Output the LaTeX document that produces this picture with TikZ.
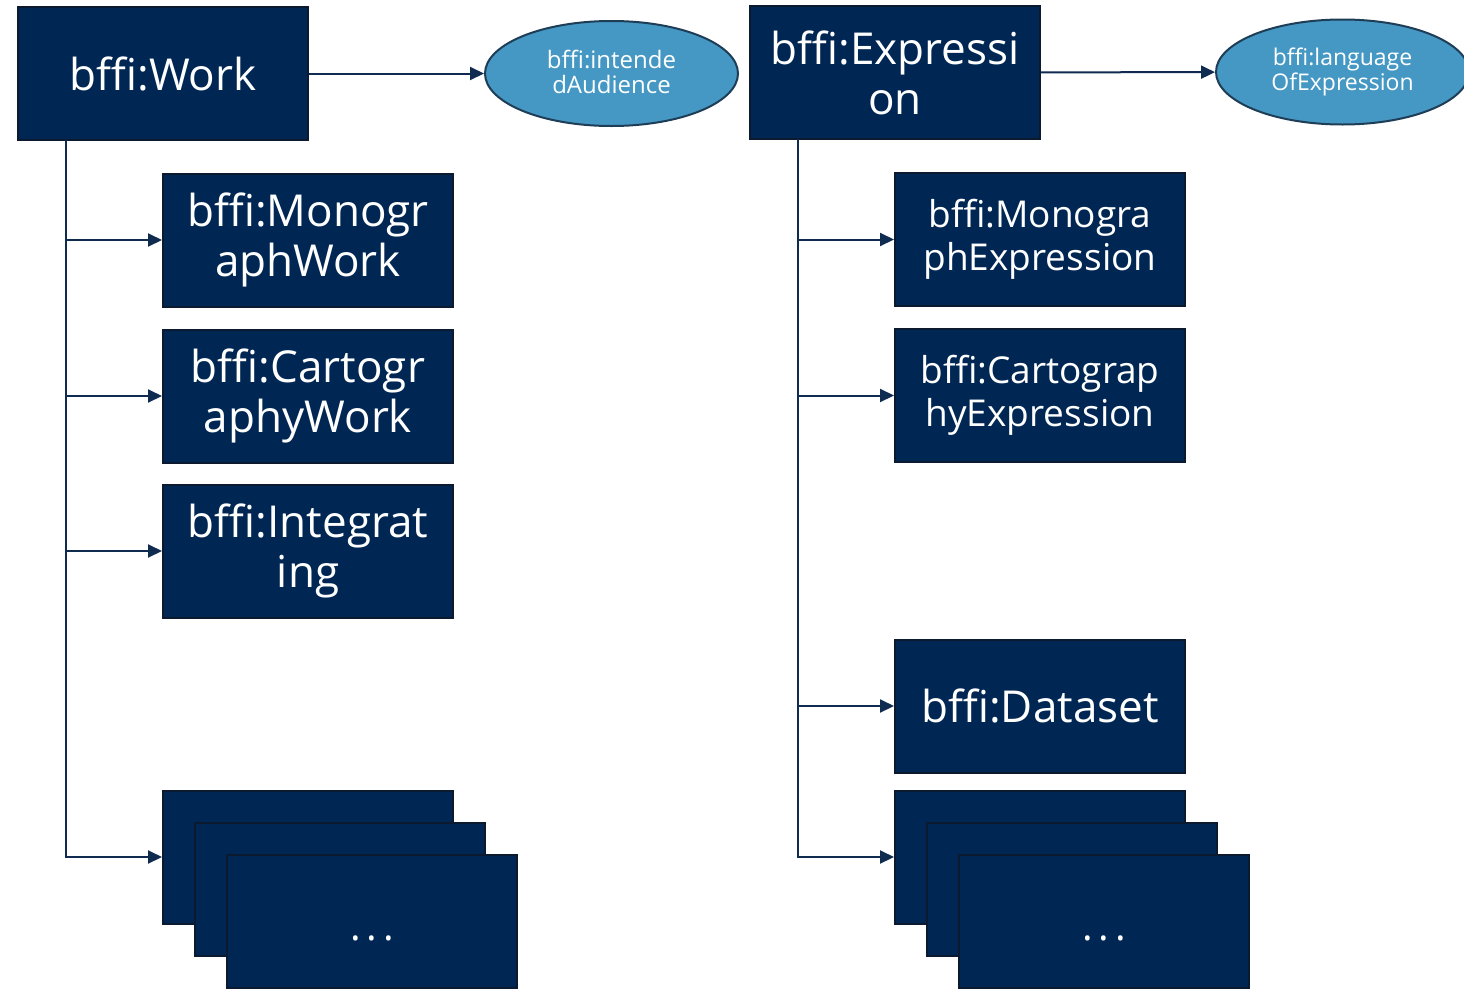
\documentclass[tikz,border=0pt]{standalone}
\usepackage{fontspec}
\setmainfont{Open Sans}
\usetikzlibrary{arrows.meta,shapes.geometric}
\definecolor{navy}{HTML}{002753}
\definecolor{boxedge}{HTML}{0B1A2E}
\definecolor{sky}{HTML}{4598C3}
\definecolor{skyedge}{HTML}{1E3D57}
\definecolor{linec}{HTML}{0F2B50}
\begin{document}
\begin{tikzpicture}[x=1pt,y=-1pt,
  box/.style={draw=boxedge, line width=2pt, fill=navy, text=white,
    minimum width=290pt, minimum height=133pt, inner sep=0pt, align=center},
  bigtxt/.style={font=\fontsize{44}{50}\selectfont},
  midtxt/.style={font=\fontsize{37}{43}\selectfont},
  dotsbox/.style={box, font=\fontsize{40}{40}\selectfont, text height=0pt, text depth=0pt},
  oval/.style={ellipse, draw=skyedge, line width=2pt, fill=sky, text=white,
    minimum width=253pt, minimum height=105pt, inner sep=0pt, align=center},
  arr/.style={draw=linec, line width=2pt, -{Triangle[length=14pt,width=13pt]}},
  trunk/.style={draw=linec, line width=2pt}]
\useasboundingbox (0,0) rectangle (1464,988);
\clip (0,0) rectangle (1464,988);
\fill[white] (0,0) rectangle (1464,988);

% left column
\node[box,bigtxt] (work) at (163,73.5) {bffi:Work};
\node[oval,font=\fontsize{24}{25}\selectfont] (aud) at (611.5,73.5) {\raisebox{3pt}{bffi:intende}\\\raisebox{3pt}{dAudience}};
\node[box,bigtxt] (wmono) at (308,240) {bffi:Monogr\\aphWork};
\node[box,bigtxt] (wcarto) at (308,396) {bffi:Cartogr\\aphyWork};
\node[box,bigtxt] (winteg) at (308,551) {bffi:Integrat\\ing};
\node[box] (wst1) at (308,857) {};
\node[box] (wst2) at (340,889) {};
\node[dotsbox] (wst3) at (372,921.5) {\raisebox{-19pt}{.\hspace{6pt}.\hspace{6pt}.}};
\coordinate (wt) at (66,140);

\draw[arr] (work) -- (aud);
\draw[trunk] (wt) -- (66,857);
\draw[arr] (wt) |- (wmono.west);
\draw[arr] (wt) |- (wcarto.west);
\draw[arr] (wt) |- (winteg.west);
\draw[arr] (wt) |- (wst1.west);

% right column
\node[box,bigtxt] (expr) at (895,72.5) {bffi:Expressi\\on};
\node[oval,font=\fontsize{23}{23}\selectfont] (lang) at (1342.5,72) {bffi:language\\OfExpression};
\node[box,midtxt] (emono) at (1040,239.5) {bffi:Monogra\\phExpression};
\node[box,midtxt] (ecarto) at (1040,395.5) {bffi:Cartograp\\hyExpression};
\node[box,bigtxt] (edata) at (1040,706) {bffi:Dataset};
\node[box] (est1) at (1040,857) {};
\node[box] (est2) at (1072,889) {};
\node[dotsbox] (est3) at (1104,921.5) {\raisebox{-19pt}{.\hspace{6pt}.\hspace{6pt}.}};
\coordinate (et) at (798,139);

\draw[arr] (expr) -- (lang);
\draw[arr] (et) |- (emono.west);
\draw[arr] (et) |- (ecarto.west);
\draw[arr] (et) |- (edata.west);
\draw[arr] (et) |- (est1.west);
\end{tikzpicture}
\end{document}
